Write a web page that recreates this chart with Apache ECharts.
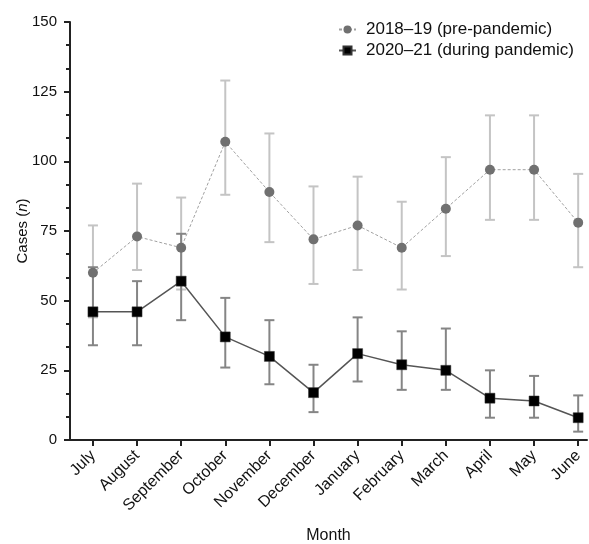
<!DOCTYPE html>
<html>
<head>
<meta charset="utf-8">
<script src="https://cdn.jsdelivr.net/npm/echarts@6/dist/echarts.min.js"></script>
<style>
  html, body { margin: 0; padding: 0; background: #fff; }
  #main { width: 589px; height: 544px; }
</style>
</head>
<body>
<div id="main"></div>
<script>
// months (July -> June)
var months = ['July', 'August', 'September', 'October', 'November', 'December',
              'January', 'February', 'March', 'April', 'May', 'June'];

// 2018-19 (pre-pandemic)
var preMean = [60, 73, 69, 107, 89, 72, 77, 69, 83, 97, 97, 78];
var preLow  = [44, 61, 54, 88, 71, 56, 61, 54, 66, 79, 79, 62];
var preHigh = [77, 92, 87, 129, 110, 91, 94.5, 85.5, 101.5, 116.5, 116.5, 95.5];

// 2020-21 (during pandemic)
var durMean = [46, 46, 57, 37, 30, 17, 31, 27, 25, 15, 14, 8];
var durLow  = [34, 34, 43, 26, 20, 10, 21, 18, 18, 8, 8, 3];
var durHigh = [62, 57, 74, 51, 43, 27, 44, 39, 40, 25, 23, 16];

var yTicks = [0, 25, 50, 75, 100, 125, 150];

var FONT = 'Liberation Sans, Arial, sans-serif';
var idx = months.map(function (m, i) { return i; });

function pts(vals) {
  return vals.map(function (v, i) { return [i, v]; });
}
function bars(lo, hi) {
  return lo.map(function (v, i) { return [i, v, hi[i]]; });
}
// vertical error bar with caps
function errRender(color) {
  return function (params, api) {
    var x = api.value(0);
    var lo = api.coord([x, api.value(1)]);
    var hi = api.coord([x, api.value(2)]);
    var w = 5;
    var st = { stroke: color, lineWidth: 2 };
    return {
      type: 'group',
      children: [
        { type: 'line', shape: { x1: lo[0], y1: lo[1], x2: hi[0], y2: hi[1] }, style: st },
        { type: 'line', shape: { x1: lo[0] - w, y1: lo[1], x2: lo[0] + w, y2: lo[1] }, style: st },
        { type: 'line', shape: { x1: hi[0] - w, y1: hi[1], x2: hi[0] + w, y2: hi[1] }, style: st }
      ]
    };
  };
}

var chart = echarts.init(document.getElementById('main'));
chart.setOption({
  animation: false,
  textStyle: { fontFamily: FONT },
  grid: { left: 70, right: 2, top: 22, bottom: 104, outerBoundsMode: 'none' },
  legend: {
    orient: 'vertical',
    left: 333,
    top: 16,
    itemWidth: 17,
    itemHeight: 10,
    itemGap: 4,
    textStyle: { fontSize: 17, color: '#111', fontFamily: FONT, padding: [0, 0, 0, 5] },
    data: ['2018–19 (pre-pandemic)', '2020–21 (during pandemic)']
  },
  xAxis: {
    type: 'value',
    min: -0.52,
    max: 11.2,
    name: 'Month',
    nameLocation: 'middle',
    nameGap: 88,
    nameTextStyle: { fontSize: 16, color: '#111' },
    axisLine: { show: true, onZero: false, lineStyle: { color: '#222', width: 2 } },
    axisTick: { show: true, customValues: idx, length: 6, lineStyle: { color: '#222', width: 2 } },
    axisLabel: {
      customValues: idx,
      rotate: 45,
      margin: 13,
      fontSize: 16,
      color: '#111',
      formatter: function (v) { return months[Math.round(v)]; }
    },
    splitLine: { show: false }
  },
  yAxis: {
    type: 'value',
    min: 0,
    max: 150,
    interval: 25,
    name: '{a|Cases (}{b|n}{a|)}',
    nameLocation: 'middle',
    nameGap: 40,
    nameMoveOverlap: false,
    nameTextStyle: {
      rich: {
        a: { fontSize: 15, color: '#111', fontFamily: FONT },
        b: { fontSize: 15, color: '#111', fontStyle: 'italic', fontFamily: FONT }
      }
    },
    axisLine: { show: true, onZero: false, lineStyle: { color: '#222', width: 2 } },
    axisTick: { show: true, length: 6, lineStyle: { color: '#222', width: 2 } },
    minorTick: { show: true, splitNumber: 3, length: 4, lineStyle: { color: '#222', width: 2 } },
    axisLabel: {
      fontSize: 15, color: '#111', margin: 13,
      customValues: yTicks
    },
    splitLine: { show: false }
  },
  series: [
    {
      type: 'custom',
      name: 'preErr',
      renderItem: errRender('#c4c4c4'),
      data: bars(preLow, preHigh),
      z: 1,
      silent: true
    },
    {
      type: 'custom',
      name: 'durErr',
      renderItem: errRender('#858585'),
      data: bars(durLow, durHigh),
      z: 2,
      silent: true
    },
    {
      type: 'line',
      name: '2018–19 (pre-pandemic)',
      data: pts(preMean),
      symbol: 'circle',
      symbolSize: 10,
      itemStyle: { color: '#707070' },
      lineStyle: { color: '#a0a0a0', width: 1, type: [3, 2] },
      z: 3
    },
    {
      type: 'line',
      name: '2020–21 (during pandemic)',
      data: pts(durMean),
      symbol: 'rect',
      symbolSize: 10,
      itemStyle: { color: '#000', borderColor: '#333', borderWidth: 0.5 },
      lineStyle: { color: '#555', width: 1.5 },
      z: 4
    }
  ]
});
</script>
</body>
</html>
